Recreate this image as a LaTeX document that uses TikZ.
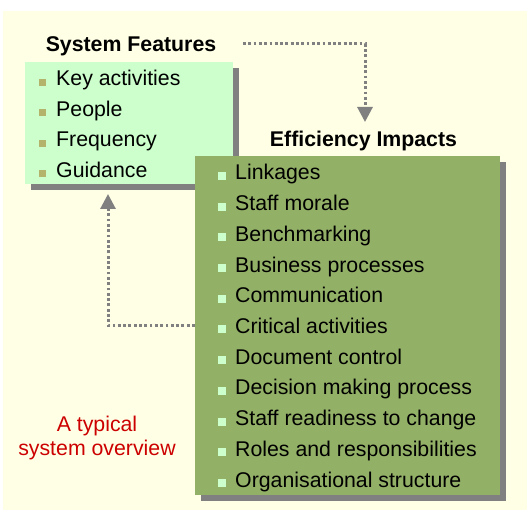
\documentclass[tikz,border=0pt]{standalone}
\usepackage{fontspec}
\setmainfont{Liberation Sans}
\usetikzlibrary{arrows.meta,shadows}
\definecolor{bg}{HTML}{FFFFE5}
\definecolor{lightg}{HTML}{CCFFCC}
\definecolor{darkg}{HTML}{93B067}
\definecolor{shade}{HTML}{808080}
\definecolor{bulL}{HTML}{B3B36B}
\definecolor{bulD}{HTML}{CCFFCC}
\definecolor{redtxt}{HTML}{CC0000}
\newcommand\lbul{\textcolor{bulL}{\rule{7pt}{7pt}}\hspace{10pt}}
\newcommand\dbul{\textcolor{bulD}{\rule{8pt}{8pt}}\hspace{9pt}}
\begin{document}
\begin{tikzpicture}[x=1pt,y=-1pt,
  every node/.style={inner sep=0pt, font=\fontsize{21.3}{24}\selectfont},
  boxshadow/.style={drop shadow={shadow xshift=6pt,shadow yshift=-6pt,fill=shade,opacity=1}},
  lbox/.style={fill=lightg, boxshadow},
  dbox/.style={fill=darkg, boxshadow},
  titletxt/.style={font=\bfseries\fontsize{21.3}{24}\selectfont, anchor=base},
  item/.style={anchor=base west},
  conn/.style={draw=shade, line width=3pt, dash pattern=on 2.8pt off 2.5pt,
    -{Triangle[width=15pt,length=15pt]}}
]
\useasboundingbox (0,0) rectangle (527,510);
\fill[bg] (3,11) rectangle (527,510);

\node[lbox, minimum width=208pt, minimum height=122pt] (sf) at (129,123) {};
\node[dbox, minimum width=305pt, minimum height=339pt] (ei) at (347.5,325.5) {};

\node[titletxt] (sft) at (131,52) {System Features};
\node[titletxt] (eit) at (363.5,146.7) {Efficiency Impacts};

\foreach \t [count=\i] in {Key activities, People, Frequency, Guidance}
  \node[item] (l\i) at (39, {86+30.5*(\i-1)}) {\lbul\t};

\foreach \t [count=\i] in {Linkages, Staff morale, Benchmarking, Business processes,
  Communication, Critical activities, Document control, Decision making process,
  Staff readiness to change, Roles and responsibilities, Organisational structure}
  \node[item] (d\i) at (218, {180+30.7*(\i-1)}) {\dbul\t};

\node[align=center, text=redtxt] (note) at (97,438) {A typical\\system overview};

\coordinate (a1s) at (243,44);
\coordinate (a1e) at (365,122);
\draw[conn] (a1s) -| (a1e);
\coordinate (a2e) at (108,194);
\draw[conn] (ei.west) -| (a2e);
\end{tikzpicture}
\end{document}
